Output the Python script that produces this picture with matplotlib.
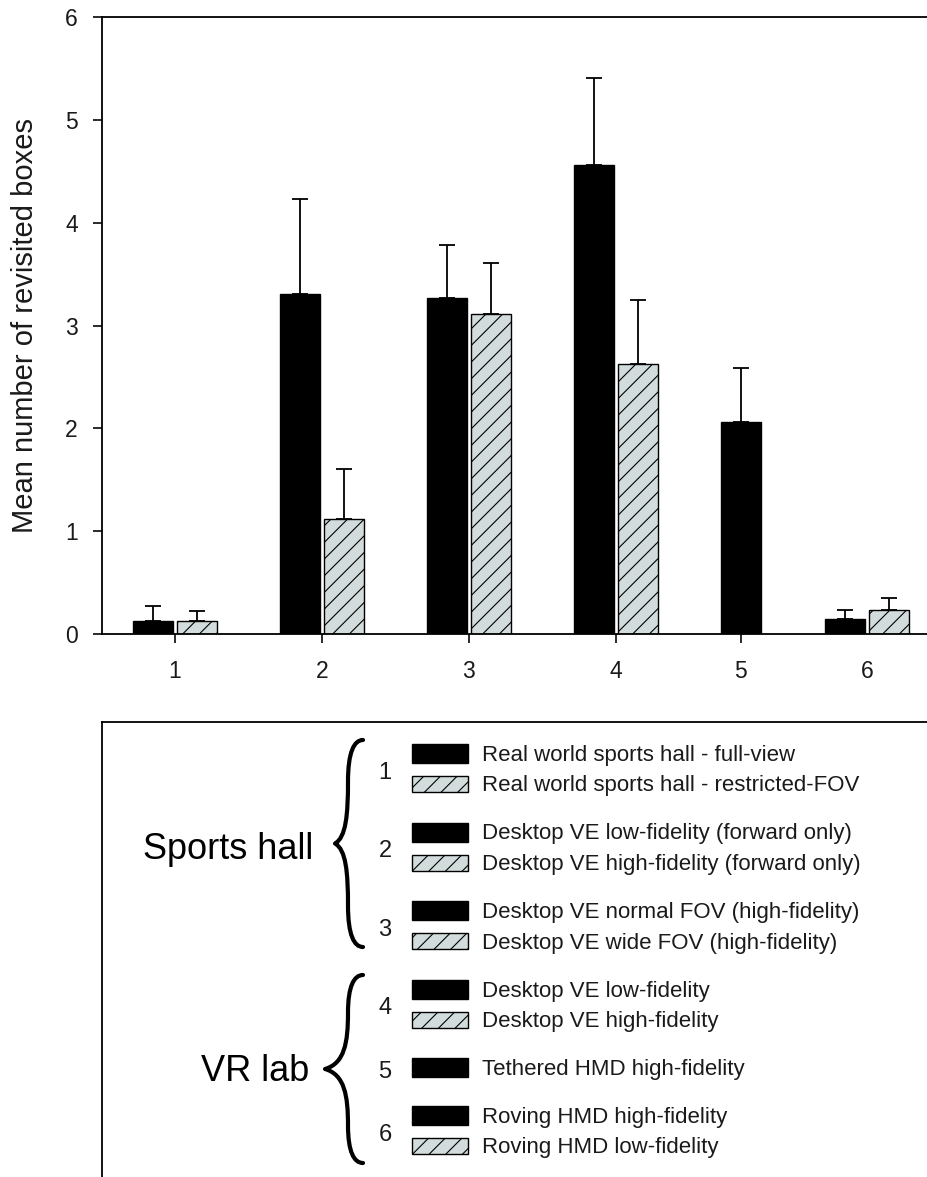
import numpy as np
import matplotlib.pyplot as plt
from matplotlib.patches import Rectangle, PathPatch
from matplotlib.path import Path

plt.rcParams['font.family'] = ['Liberation Sans', 'DejaVu Sans']
plt.rcParams['hatch.linewidth'] = 0.8

# --- data -------------------------------------------------------------
groups = ['1', '2', '3', '4', '5', '6']
group_pos = [1, 2, 3, 4, 4.85, 5.71]   # condition 5 has a single bar, so the axis is tighter there

dark_mean = [0.13, 3.31, 3.27, 4.56, 2.06, 0.15]
dark_err = [0.14, 0.92, 0.51, 0.85, 0.53, 0.08]
hatch_mean = [0.13, 1.12, 3.11, 2.63, np.nan, 0.23]
hatch_err = [0.09, 0.48, 0.50, 0.62, np.nan, 0.12]

yticks = [0, 1, 2, 3, 4, 5, 6]
ylabel = 'Mean number of revisited boxes'

legend_nums = ['1', '2', '3', '4', '5', '6']
legend_dark = ['Real world sports hall - full-view',
               'Desktop VE low-fidelity (forward only)',
               'Desktop VE normal FOV (high-fidelity)',
               'Desktop VE low-fidelity',
               'Tethered HMD high-fidelity',
               'Roving HMD high-fidelity']
legend_hatch = ['Real world sports hall - restricted-FOV',
                'Desktop VE high-fidelity (forward only)',
                'Desktop VE wide FOV (high-fidelity)',
                'Desktop VE high-fidelity',
                None,
                'Roving HMD low-fidelity']
settings = ['Sports hall', 'VR lab']

# --- figure -----------------------------------------------------------
W, H = 927, 1177
fig = plt.figure(figsize=(W / 100, H / 100), dpi=100)
fig.patch.set_facecolor('white')

FILL = '#d3dcdc'
TXT = '#1a1a1a'
LW = 1.3
PX_UNIT = 147.0   # pixels per group on the x axis

ax_w = 852.6
ax = fig.add_axes([102 / W, 1 - 634 / H, ax_w / W, (634 - 17) / H])

width = 40 / PX_UNIT
off = 22 / PX_UNIT

dark_x = [p - off if not np.isnan(h) else p for p, h in zip(group_pos, hatch_mean)]
hatch_x = [p + off for p in group_pos]

ax.bar(dark_x, dark_mean, width=width, color='black', edgecolor='black', linewidth=1.0, zorder=2)
ax.bar(hatch_x, hatch_mean, width=width, color=FILL, edgecolor='black', linewidth=1.0,
       hatch='//', zorder=2)

zeros = np.zeros(len(groups))
ax.errorbar(dark_x, dark_mean, yerr=[zeros, dark_err], fmt='none', ecolor='black',
            elinewidth=LW, capsize=5.8, capthick=LW, zorder=3)
ax.errorbar(hatch_x, hatch_mean, yerr=[zeros, hatch_err], fmt='none', ecolor='black',
            elinewidth=LW, capsize=5.8, capthick=LW, zorder=3)

ax.set_xlim(0.505, 0.505 + ax_w / PX_UNIT)
ax.set_ylim(0, 6)
ax.set_yticks(yticks)
ax.set_yticklabels([str(t) for t in yticks])
# no tick mark under the last group, only its label
ax.set_xticks(group_pos[:-1], groups[:-1])
ax.set_xticks(group_pos[-1:], groups[-1:], minor=True)

for s in ['left', 'bottom', 'top']:
    ax.spines[s].set_linewidth(LW)
ax.spines['right'].set_visible(False)

ax.tick_params(axis='y', direction='out', length=6.5, width=LW, labelsize=16.5, pad=10.8, colors=TXT)
ax.tick_params(axis='x', which='major', direction='out', length=6.5, width=LW, labelsize=16.5,
               pad=12, colors=TXT)
ax.tick_params(axis='x', which='minor', length=0, labelsize=16.5, pad=18.5, colors=TXT)

fig.text(25 / W, 1 - 325.5 / H, ylabel, rotation=90, ha='center', va='center',
         fontsize=21, color=TXT)

# --- key box below the chart (drawn in pixel units) -------------------
lg = fig.add_axes([102 / W, 0, 1 - 102 / W, (H - 722) / H])
lg.set_xlim(102, W)
lg.set_ylim(H, 722)
lg.set_xticks([])
lg.set_yticks([])
lg.spines['right'].set_visible(False)
lg.spines['bottom'].set_visible(False)
lg.spines['left'].set_linewidth(LW)
lg.spines['top'].set_linewidth(LW)


def draw_brace(a, x_tip, x_body, x_end, y0, y1):
    # curly brace "{" with the point at x_tip and hooked ends at x_end
    ym = (y0 + y1) / 2
    h = y1 - y0
    verts = [(x_end, y0),
             (x_body + 0.4 * (x_end - x_body), y0), (x_body, y0 + 0.06 * h), (x_body, y0 + 0.2 * h),
             (x_body, y0 + 0.36 * h), (x_body - 0.15 * (x_body - x_tip), ym - 0.03 * h), (x_tip, ym),
             (x_body - 0.15 * (x_body - x_tip), ym + 0.03 * h), (x_body, y1 - 0.36 * h), (x_body, y1 - 0.2 * h),
             (x_body, y1 - 0.06 * h), (x_body + 0.4 * (x_end - x_body), y1), (x_end, y1)]
    codes = [Path.MOVETO] + [Path.CURVE4] * 12
    a.add_patch(PathPatch(Path(verts, codes), facecolor='none', edgecolor='black',
                          linewidth=3.0, capstyle='round', joinstyle='round', clip_on=False))


patch_x, patch_w = 411.7, 56.6
text_x = 482
row_step, group_step = 30.5, 48
y = 753.5
for num, dlab, hlab in zip(legend_nums, legend_dark, legend_hatch):
    rows = [('dark', dlab)] + ([('hatch', hlab)] if hlab else [])
    ys = []
    for kind, label in rows:
        if kind == 'dark':
            lg.add_patch(Rectangle((patch_x, y - 9.5), patch_w, 19, facecolor='black',
                                   edgecolor='black', linewidth=1.0))
        else:
            lg.add_patch(Rectangle((patch_x, y - 8), patch_w, 16, facecolor=FILL,
                                   edgecolor='black', linewidth=1.0, hatch='//'))
        lg.text(text_x, y + 7.5, label, fontsize=16, color=TXT, va='baseline', ha='left')
        ys.append(y)
        y += row_step
    y += group_step - row_step
    lg.text(385, np.mean(ys) + 10, num, fontsize=17, color=TXT, va='baseline', ha='center')

draw_brace(lg, 335, 348, 363, 740, 947)
draw_brace(lg, 325, 348, 363, 975, 1163)

lg.text(313, 859, settings[0], fontsize=26, color='black', ha='right', va='baseline')
lg.text(309, 1081, settings[1], fontsize=26, color='black', ha='right', va='baseline')

fig.savefig('out.png', dpi=100, facecolor='white')
